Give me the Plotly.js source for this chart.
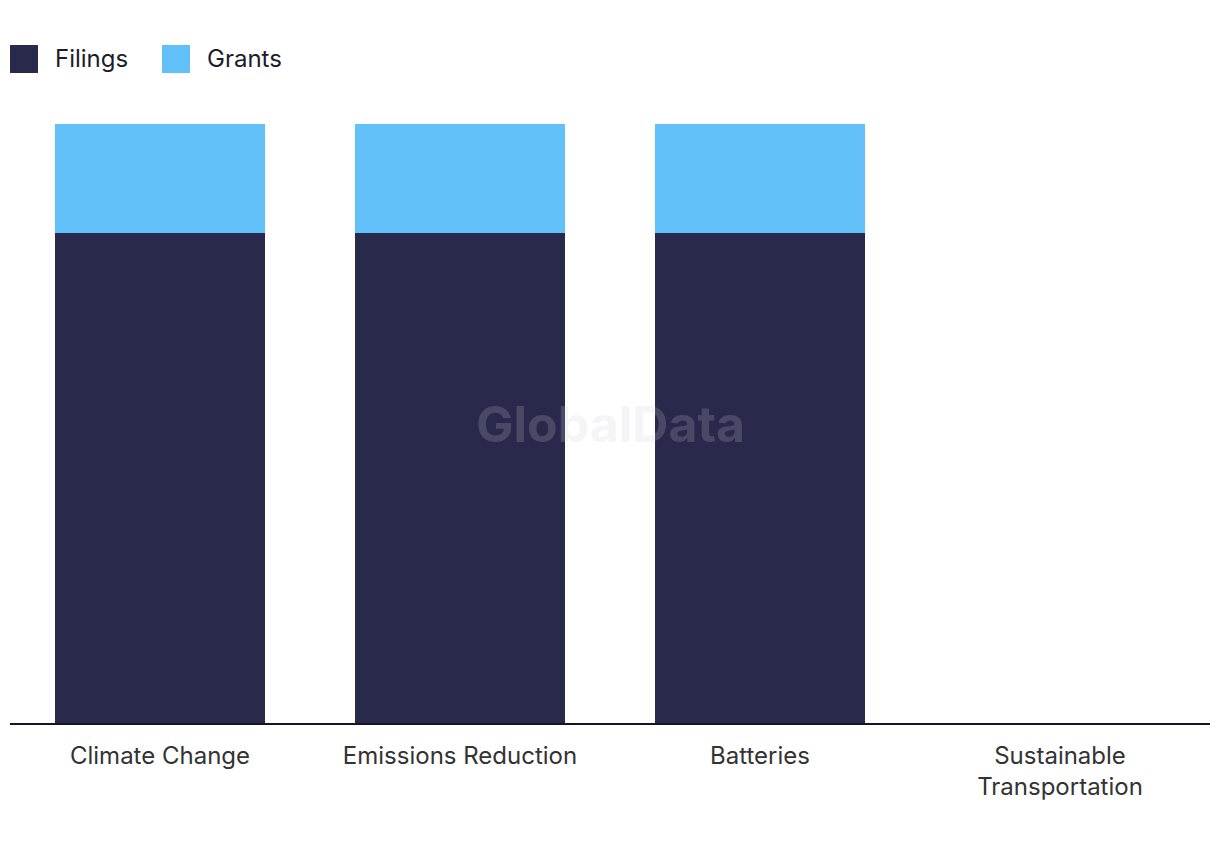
<!DOCTYPE html>
<html>
<head>
<meta charset="utf-8">
<script src="https://cdn.plot.ly/plotly-3.0.1.min.js"></script>
<style>
  html, body { margin: 0; padding: 0; background: #fff; }
  #chart { width: 1220px; height: 850px; }
</style>
</head>
<body>
<div id="chart"></div>
<script>
const CATEGORIES = ["Climate Change", "Emissions Reduction", "Batteries", "Sustainable<br>Transportation"];
const FILINGS = [9, 9, 9, 0];
const GRANTS = [2, 2, 2, 0];

const COLORS = { filings: "#28294b", grants: "#62c1f8" };
const FONT = "Inter, Roboto, 'Noto Sans', sans-serif";

const series = [
    { name: "Filings", y: FILINGS, color: COLORS.filings },
    { name: "Grants",  y: GRANTS,  color: COLORS.grants },
];

const traces = series.map((s) => ({
    type: "bar",
    x: CATEGORIES,
    y: s.y,
    name: s.name,
    marker: { color: s.color, line: { width: 0 } },
    hoverinfo: "skip",
    showlegend: false,
}));

// hand-built legend: big square swatches like the original
const legendShapes = [];
const legendLabels = [];
const legendX = [10, 162];
series.forEach((s, i) => {
    legendShapes.push({
        type: "rect", xref: "paper", yref: "paper",
        xsizemode: "pixel", ysizemode: "pixel",
        xanchor: 0, yanchor: 1,
        x0: legendX[i] - 10, x1: legendX[i] + 18,
        y0: 124 - 45, y1: 124 - 73,
        fillcolor: s.color, line: { width: 0 },
    });
    legendLabels.push({
        xref: "paper", yref: "paper", x: 0, y: 1,
        xanchor: "left", yanchor: "middle",
        xshift: legendX[i] + 33, yshift: 124 - 58,
        text: s.name, showarrow: false,
        font: { family: FONT, size: 24, color: "#1c1c2c" },
    });
});

const layout = {
    width: 1220,
    height: 850,
    margin: { t: 124, b: 127, l: 10, r: 10 },
    paper_bgcolor: "#ffffff",
    plot_bgcolor: "#ffffff",
    barmode: "stack",
    bargap: 0.3,
    showlegend: false,
    font: { family: FONT, size: 24, color: "#333333" },
    xaxis: {
        showline: true, linecolor: "#15152a", linewidth: 2,
        ticks: "", showgrid: false, zeroline: false,
        ticklabelstandoff: 10,
        tickfont: { family: FONT, size: 24, color: "#333333" },
        fixedrange: true,
    },
    yaxis: {
        visible: false, range: [0, 11], fixedrange: true,
    },
    shapes: legendShapes,
    annotations: [
        ...legendLabels,
        {
            xref: "paper", yref: "paper", x: 0.5, y: 0.5,
            text: "<b>GlobalData</b>", showarrow: false,
            font: { family: FONT, size: 50, color: "rgba(206,206,214,0.2)" },
        },
    ],
};

Plotly.newPlot("chart", traces, layout, { displayModeBar: false, staticPlot: true });
</script>
</body>
</html>
